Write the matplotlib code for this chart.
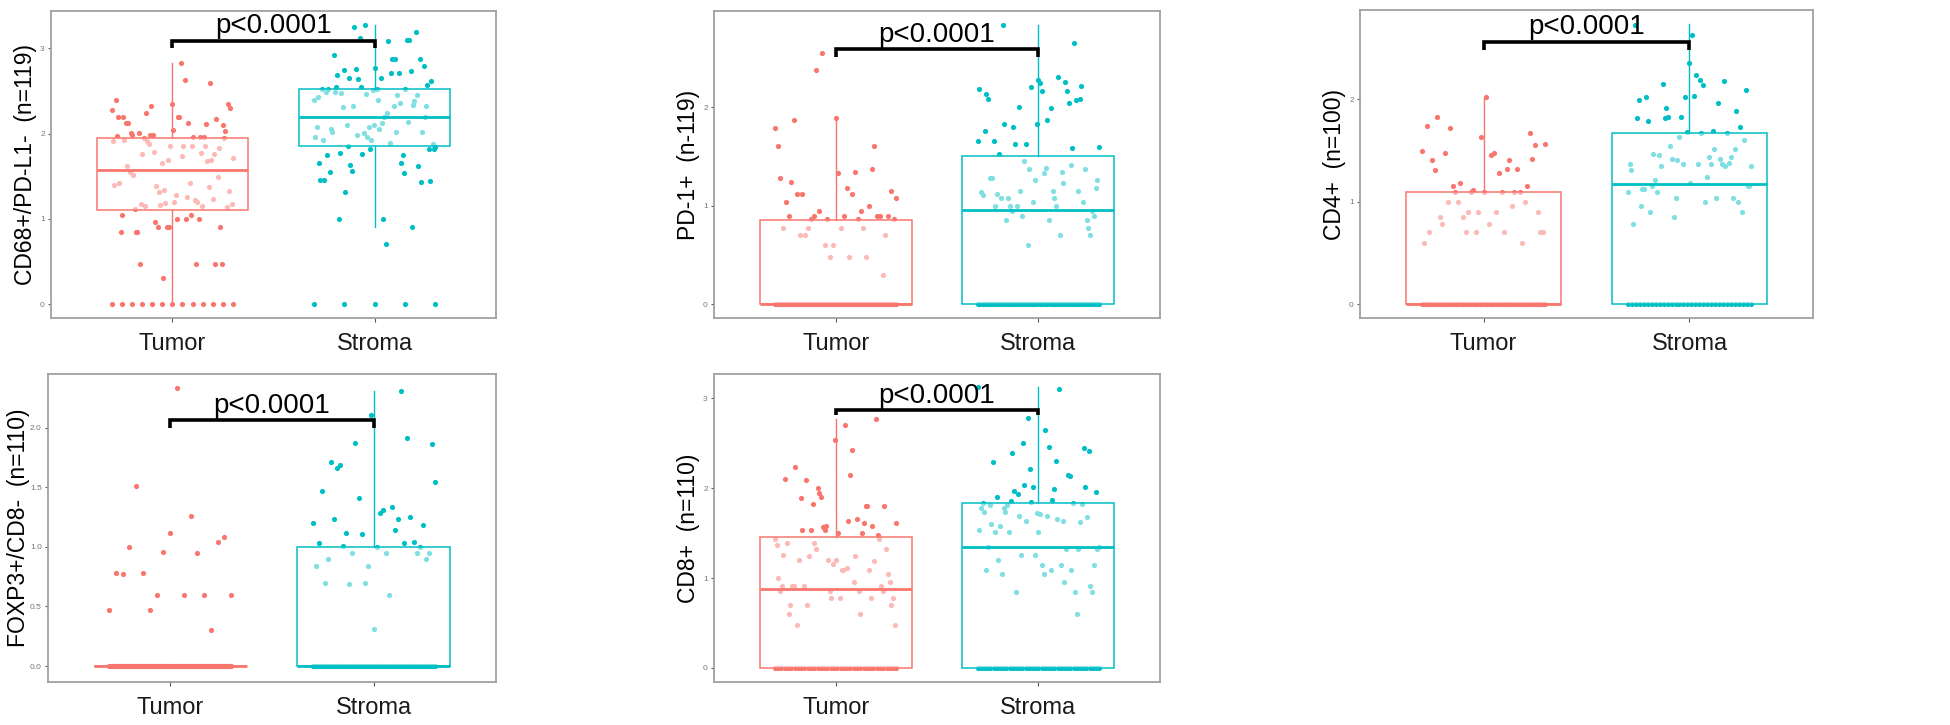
import numpy as np
import matplotlib
matplotlib.use("Agg")
import matplotlib.pyplot as plt

plt.rcParams['font.family'] = ['Liberation Sans', 'DejaVu Sans']

groups = ['Tumor', 'Stroma']
tumor_color = '#F8766D'
stroma_color = '#00BFC4'

# ---- panel data: non-zero values read left to right, plus count of zeros ----
# CD68+/PD-L1-
cd68_tumor = [2.28, 1.91, 1.40, 2.40, 1.97, 2.19, 1.42, 0.84, 1.05, 2.19, 1.93, 2.13, 1.62, 2.12,
              1.55, 2.01, 1.98, 1.52, 1.11, 0.84, 0.84, 2.01, 0.47, 1.18, 1.76, 1.95, 1.15, 2.24,
              1.91, 1.88, 1.99, 2.33, 1.99, 1.79, 0.96, 1.38, 0.90, 1.31, 1.16, 1.66, 0.30, 1.34,
              1.19, 0.90, 1.69, 0.90, 1.86, 2.35, 2.04, 1.20, 1.28, 1.00, 2.20, 2.20, 2.83, 1.74,
              1.86, 2.63, 1.00, 1.26, 2.12, 1.42, 1.05, 1.85, 1.96, 1.22, 0.47, 1.20, 1.00, 1.96,
              1.77, 1.15, 1.96, 1.85, 2.11, 1.68, 1.37, 2.59, 1.69, 1.23, 1.76, 0.47, 2.17, 1.49,
              1.83, 0.90, 0.47, 2.10, 1.95, 2.03, 1.14, 2.35, 1.33, 2.30, 1.18, 1.71]
cd68_tumor_zeros = 13
cd68_stroma = [2.40, 1.96, 2.08, 2.43, 1.65, 1.46, 2.53, 1.93, 1.46, 2.49, 1.75, 2.53, 1.55, 2.06,
               2.02, 2.92, 2.49, 2.55, 2.69, 1.00, 1.77, 2.48, 2.31, 2.75, 1.32, 2.10, 1.86, 2.65,
               1.63, 1.56, 2.32, 3.25, 2.76, 1.98, 2.64, 3.12, 2.55, 1.76, 2.01, 3.27, 2.47, 1.96,
               2.08, 1.82, 1.93, 2.51, 2.10, 2.77, 2.53, 2.39, 2.06, 2.65, 2.12, 1.00, 2.20, 0.70,
               2.24, 3.09, 1.89, 2.71, 2.88, 2.32, 2.88, 2.02, 2.45, 2.71, 2.36, 1.65, 1.75, 1.54,
               2.52, 3.10, 2.14, 3.10, 2.73, 0.90, 2.34, 2.38, 3.19, 2.45, 1.62, 2.88, 1.43, 2.02,
               2.79, 2.20, 2.32, 2.57, 1.82, 1.44, 2.62, 1.88, 1.82, 1.84]
cd68_stroma_zeros = 5

# PD-1+
pd1_tumor = [1.79, 1.61, 1.28, 0.77, 1.04, 0.90, 1.24, 1.87, 1.12, 0.70, 1.12, 0.70, 0.77, 0.86,
             0.90, 2.38, 0.95, 2.55, 0.60, 0.86, 0.48, 0.60, 1.89, 1.33, 0.77, 0.90, 1.18, 0.48,
             1.12, 1.34, 0.86, 0.95, 0.77, 0.48, 1.00, 1.37, 1.61, 0.90, 0.90, 0.30, 0.70, 0.90,
             1.15, 0.86, 1.08]
pd1_tumor_zeros = 70
pd1_stroma = [1.66, 2.19, 1.14, 1.11, 1.76, 2.14, 2.09, 1.28, 1.28, 1.66, 1.00, 1.12, 1.53, 1.08,
              2.84, 1.83, 0.85, 1.08, 1.00, 0.95, 1.80, 1.63, 1.00, 2.00, 1.15, 0.90, 1.45, 1.63,
              0.60, 1.37, 2.21, 1.04, 1.26, 1.83, 2.28, 2.25, 2.17, 1.33, 1.38, 1.87, 0.85, 1.99,
              1.15, 1.08, 1.00, 2.31, 0.70, 1.34, 1.23, 2.26, 2.17, 2.04, 1.41, 1.59, 2.65, 2.07,
              1.15, 2.09, 2.22, 1.04, 1.37, 0.85, 0.77, 0.70, 0.95, 0.90, 1.18, 1.26, 1.60]
pd1_stroma_zeros = 48

# CD4+
cd4_tumor = [1.49, 0.60, 1.74, 0.70, 1.41, 1.31, 1.83, 0.85, 0.78, 1.47, 1.00, 1.72, 1.15, 1.09,
             1.00, 1.18, 0.85, 0.70, 0.90, 1.09, 1.11, 0.70, 0.90, 1.63, 1.09, 2.02, 0.78, 1.45,
             1.47, 0.90, 1.28, 1.09, 0.70, 1.32, 1.41, 0.96, 1.09, 1.32, 1.09, 0.60, 1.00, 1.15,
             1.67, 1.42, 1.55, 0.90, 0.70, 0.70, 1.56]
cd4_tumor_zeros = 52
cd4_stroma = [1.09, 1.37, 1.31, 0.78, 2.72, 1.82, 1.99, 0.96, 1.12, 1.12, 2.02, 1.79, 0.90, 1.15,
              1.46, 1.21, 1.09, 1.45, 1.35, 2.15, 1.82, 1.91, 1.83, 1.54, 1.42, 0.85, 1.04, 1.41,
              1.63, 1.83, 1.37, 2.02, 1.68, 2.35, 1.18, 2.63, 2.03, 2.24, 1.37, 2.19, 1.67, 2.14,
              1.00, 1.24, 1.44, 1.37, 1.69, 1.51, 1.04, 1.96, 1.42, 1.37, 2.18, 1.35, 1.67, 1.38,
              1.44, 1.04, 1.51, 1.88, 1.00, 1.73, 0.90, 1.60, 2.09, 1.15, 1.15, 1.35]
cd4_stroma_zeros = 32

# FOXP3+/CD8-
foxp3_tumor = [0.47, 0.78, 0.77, 1.00, 1.51, 0.78, 0.47, 0.60, 0.96, 1.12, 2.33, 0.60, 1.26,
               0.95, 0.60, 0.30, 1.04, 1.08, 0.60]
foxp3_tumor_zeros = 91
foxp3_stroma = [1.20, 0.84, 1.03, 1.47, 0.70, 0.90, 1.71, 1.23, 1.66, 1.69, 1.01, 1.12, 0.69,
                0.95, 1.87, 1.41, 1.11, 0.70, 0.84, 2.11, 0.31, 1.00, 1.28, 1.31, 0.95, 0.60,
                1.33, 1.14, 1.23, 2.31, 1.03, 1.91, 1.25, 1.04, 0.95, 1.00, 1.18, 0.90, 0.95,
                1.86, 1.54]
foxp3_stroma_zeros = 69

# CD8+
cd8_tumor = [1.44, 1.37, 1.00, 0.86, 0.91, 1.26, 2.10, 1.39, 0.60, 0.70, 0.91, 0.91, 2.24, 0.48,
             1.20, 1.89, 1.54, 0.91, 2.09, 0.70, 1.24, 1.53, 1.82, 1.39, 1.32, 2.00, 1.95, 1.90,
             1.57, 1.54, 1.58, 1.20, 0.86, 0.78, 1.16, 2.54, 1.20, 1.50, 0.78, 1.09, 1.09, 2.70,
             1.11, 1.63, 2.15, 2.42, 0.96, 1.24, 1.66, 0.86, 0.60, 1.50, 1.61, 1.80, 1.80, 1.09,
             0.78, 1.58, 1.19, 2.77, 1.48, 1.43, 0.91, 0.86, 1.80, 1.32, 1.04, 0.96, 0.70, 0.78,
             0.48, 1.61]
cd8_tumor_zeros = 38
cd8_stroma = [3.12, 1.53, 1.78, 1.83, 1.74, 1.09, 1.35, 1.81, 1.60, 2.29, 1.51, 1.90, 1.20, 1.58,
              1.05, 1.78, 1.73, 1.81, 1.51, 1.86, 2.39, 1.97, 0.85, 1.93, 1.69, 1.26, 2.50, 2.03,
              1.63, 2.78, 2.21, 1.85, 2.01, 1.26, 1.72, 1.51, 1.71, 1.15, 1.05, 2.65, 1.69, 2.46,
              1.09, 1.87, 1.99, 2.30, 1.66, 3.10, 1.15, 1.64, 0.96, 1.32, 2.15, 2.13, 1.09, 1.83,
              0.85, 0.60, 1.32, 1.62, 1.82, 2.45, 2.01, 1.68, 2.41, 0.91, 0.85, 1.15, 1.96, 1.32,
              1.35]
cd8_stroma_zeros = 39

# box stats [whislo, q1, median, q3, whishi] for Tumor / Stroma
cd68_boxes = [[0.0, 1.10, 1.57, 1.95, 2.83], [0.90, 1.86, 2.19, 2.52, 3.27]]
pd1_boxes = [[0.0, 0.0, 0.0, 0.85, 1.89], [0.0, 0.0, 0.96, 1.51, 2.84]]
cd4_boxes = [[0.0, 0.0, 0.0, 1.09, 2.01], [0.0, 0.0, 1.17, 1.67, 2.73]]
foxp3_boxes = [[0.0, 0.0, 0.0, 0.0, 0.0], [0.0, 0.0, 0.0, 1.00, 2.31]]
cd8_boxes = [[0.0, 0.0, 0.88, 1.46, 2.77], [0.0, 0.0, 1.35, 1.83, 3.12]]

y_labels = ['CD68+/PD-L1-  (n=119)', 'PD-1+  (n-119)', 'CD4+  (n=100)',
            'FOXP3+/CD8-  (n=110)', 'CD8+  (n=110)']
p_text = 'p<0.0001'

W, H = 1950, 725
fig = plt.figure(figsize=(W / 100, H / 100), dpi=100)


def rect(l, r, t, b):
    return [l / W, 1 - b / H, (r - l) / W, (b - t) / H]


panels = [
    dict(rect=rect(51, 496, 11, 318), tumor=(cd68_tumor, cd68_tumor_zeros),
         stroma=(cd68_stroma, cd68_stroma_zeros), boxes=cd68_boxes, ylim=(-0.164, 3.44),
         ticks=[0, 1, 2, 3], fmt='{:.0f}', bracket=(3.01, 3.09), pad=2.5),
    dict(rect=rect(714, 1160, 11, 318), tumor=(pd1_tumor, pd1_tumor_zeros),
         stroma=(pd1_stroma, pd1_stroma_zeros), boxes=pd1_boxes, ylim=(-0.142, 2.98),
         ticks=[0, 1, 2], fmt='{:.0f}', bracket=(2.51, 2.59), pad=2.5),
    dict(rect=rect(1360, 1813, 10, 318), tumor=(cd4_tumor, cd4_tumor_zeros),
         stroma=(cd4_stroma, cd4_stroma_zeros), boxes=cd4_boxes, ylim=(-0.136, 2.87),
         ticks=[0, 1, 2], fmt='{:.0f}', bracket=(2.48, 2.56), pad=2.5),
    dict(rect=rect(48, 496, 374, 682), tumor=(foxp3_tumor, foxp3_tumor_zeros),
         stroma=(foxp3_stroma, foxp3_stroma_zeros), boxes=foxp3_boxes, ylim=(-0.134, 2.45),
         ticks=[0, 0.5, 1.0, 1.5, 2.0], fmt='{:.1f}', bracket=(2.0, 2.06), pad=0),
    dict(rect=rect(714, 1160, 374, 682), tumor=(cd8_tumor, cd8_tumor_zeros),
         stroma=(cd8_stroma, cd8_stroma_zeros), boxes=cd8_boxes, ylim=(-0.156, 3.27),
         ticks=[0, 1, 2, 3], fmt='{:.0f}', bracket=(2.81, 2.87), pad=2.5),
]

for i, p in enumerate(panels):
    ax = fig.add_axes(p['rect'])
    for pos, key, col, box in [(1, 'tumor', tumor_color, p['boxes'][0]),
                               (2, 'stroma', stroma_color, p['boxes'][1])]:
        vals, nzero = p[key]
        # jitter: spread points evenly across +/-0.3 in their reading order
        xs = pos + np.linspace(-0.3, 0.3, len(vals))
        ax.scatter(xs, vals, s=14, color=col, linewidths=0, zorder=2)
        xz = pos + np.linspace(-0.3, 0.3, nzero)
        ax.scatter(xz, np.zeros(nzero), s=14, color=col, linewidths=0, zorder=2)

        stats = dict(whislo=box[0], q1=box[1], med=box[2], q3=box[3], whishi=box[4], fliers=[])
        ax.bxp([stats], positions=[pos], widths=0.75, patch_artist=True, showcaps=False,
               boxprops=dict(facecolor=(1, 1, 1, 0.5), edgecolor=col, linewidth=1.1),
               whiskerprops=dict(color=col, linewidth=1.0),
               medianprops=dict(color=col, linewidth=2.0), zorder=3)

    lo, hi = p['bracket']
    ax.plot([1, 1, 2, 2], [lo, hi, hi, lo], color='black', lw=2.6, zorder=5,
            solid_capstyle='butt', solid_joinstyle='miter')
    ax.annotate(p_text, (1.5, hi), xytext=(0, 1), textcoords='offset points',
                ha='center', va='bottom', fontsize=20, zorder=6)

    ax.set_xlim(0.4, 2.6)
    ax.set_ylim(*p['ylim'])
    ax.set_xticks([1, 2])
    ax.set_xticklabels(groups, fontsize=17, color='#1a1a1a')
    ax.set_yticks(p['ticks'])
    ax.set_yticklabels([p['fmt'].format(t) for t in p['ticks']], fontsize=6, color='#777777')
    ax.tick_params(axis='x', length=3, color='#555555', pad=8)
    ax.tick_params(axis='y', length=2.5, color='#555555', pad=2)
    ax.set_ylabel(y_labels[i], fontsize=16.5, labelpad=p['pad'])
    for sp in ax.spines.values():
        sp.set_color('#a0a0a0')
        sp.set_linewidth(1.3)

fig.savefig('out.png', dpi=100, facecolor='white')
